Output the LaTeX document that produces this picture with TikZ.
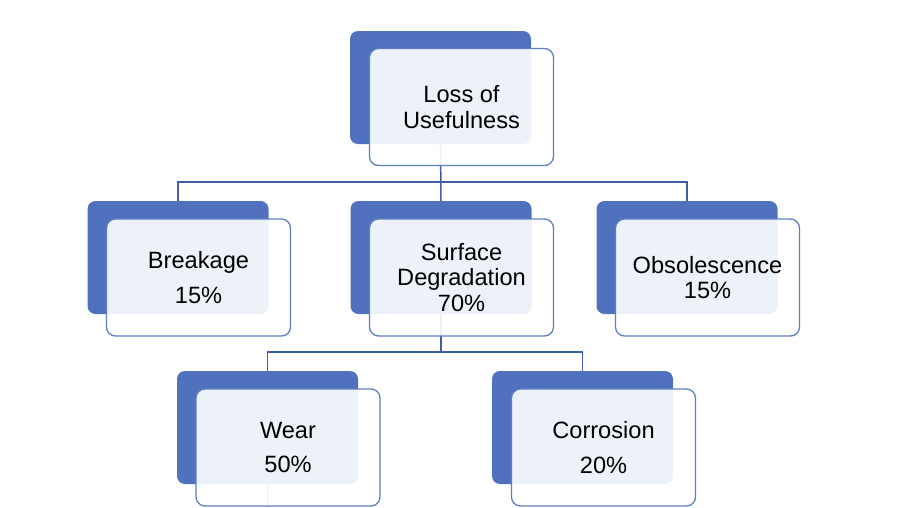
\documentclass[tikz,border=0pt]{standalone}
\usepackage{fontspec}
\setmainfont{Liberation Sans}
\definecolor{darkbox}{HTML}{4F71BE}
\definecolor{frontline}{HTML}{5F7FC2}
\definecolor{connclr}{HTML}{3E5FA8}
\begin{document}
\begin{tikzpicture}[x=1pt,y=-1pt,
  back/.style={draw=none, fill=darkbox, rounded corners=8pt, minimum width=181pt, minimum height=113pt, inner sep=0pt},
  front/.style={draw=frontline, line width=1.3pt, fill=white, fill opacity=0.9, text opacity=1, rounded corners=9pt, minimum width=184pt, minimum height=117pt, inner sep=0pt, align=center, font=\fontsize{23.6}{25.5}\selectfont},
  connline/.style={draw=connclr, line width=1.5pt}]
\useasboundingbox (0,0) rectangle (903,507);
\fill[white] (0,0) rectangle (903,507);
% back boxes
\node[back] (top-back) at (440.5,87.5) {};
\node[back] (brk-back) at (178,257.5) {};
\node[back] (sur-back) at (441,257.5) {};
\node[back] (obs-back) at (687,257.5) {};
\node[back] (wear-back) at (267.5,427.5) {};
\node[back] (cor-back) at (582.5,427.5) {};
% connectors
\coordinate (bus1) at (0,182);
\coordinate (bus2) at (0,352);
\coordinate (wearend) at (267.5,507);
\draw[connline] (top-back.south) -- (sur-back.north);
\draw[connline] (top-back.south |- bus1) -| (brk-back.north);
\draw[connline] (top-back.south |- bus1) -| (obs-back.north);
\draw[connline] (sur-back.south) -- (sur-back.south |- bus2) -| (wear-back.north);
\draw[connline] (sur-back.south |- bus2) -| (cor-back.north);
\draw[connline] (wear-back.south) -- (wearend);
% front boxes
\node[front] (top) at (461.5,107) {Loss of\\Usefulness};
\node[front] (brk) at (198.5,277.5) {Breakage\\[9pt]15\%};
\node[front] (sur) at (461.5,277.5) {Surface\\Degradation\\70\%};
\node[front] (obs) at (707.5,277.5) {Obsolescence\\15\%};
\node[front] (wear) at (288,447.5) {Wear\\[9pt]50\%};
\node[front] (cor) at (603.5,447.5) {Corrosion\\[9pt]20\%};
\end{tikzpicture}
\end{document}
